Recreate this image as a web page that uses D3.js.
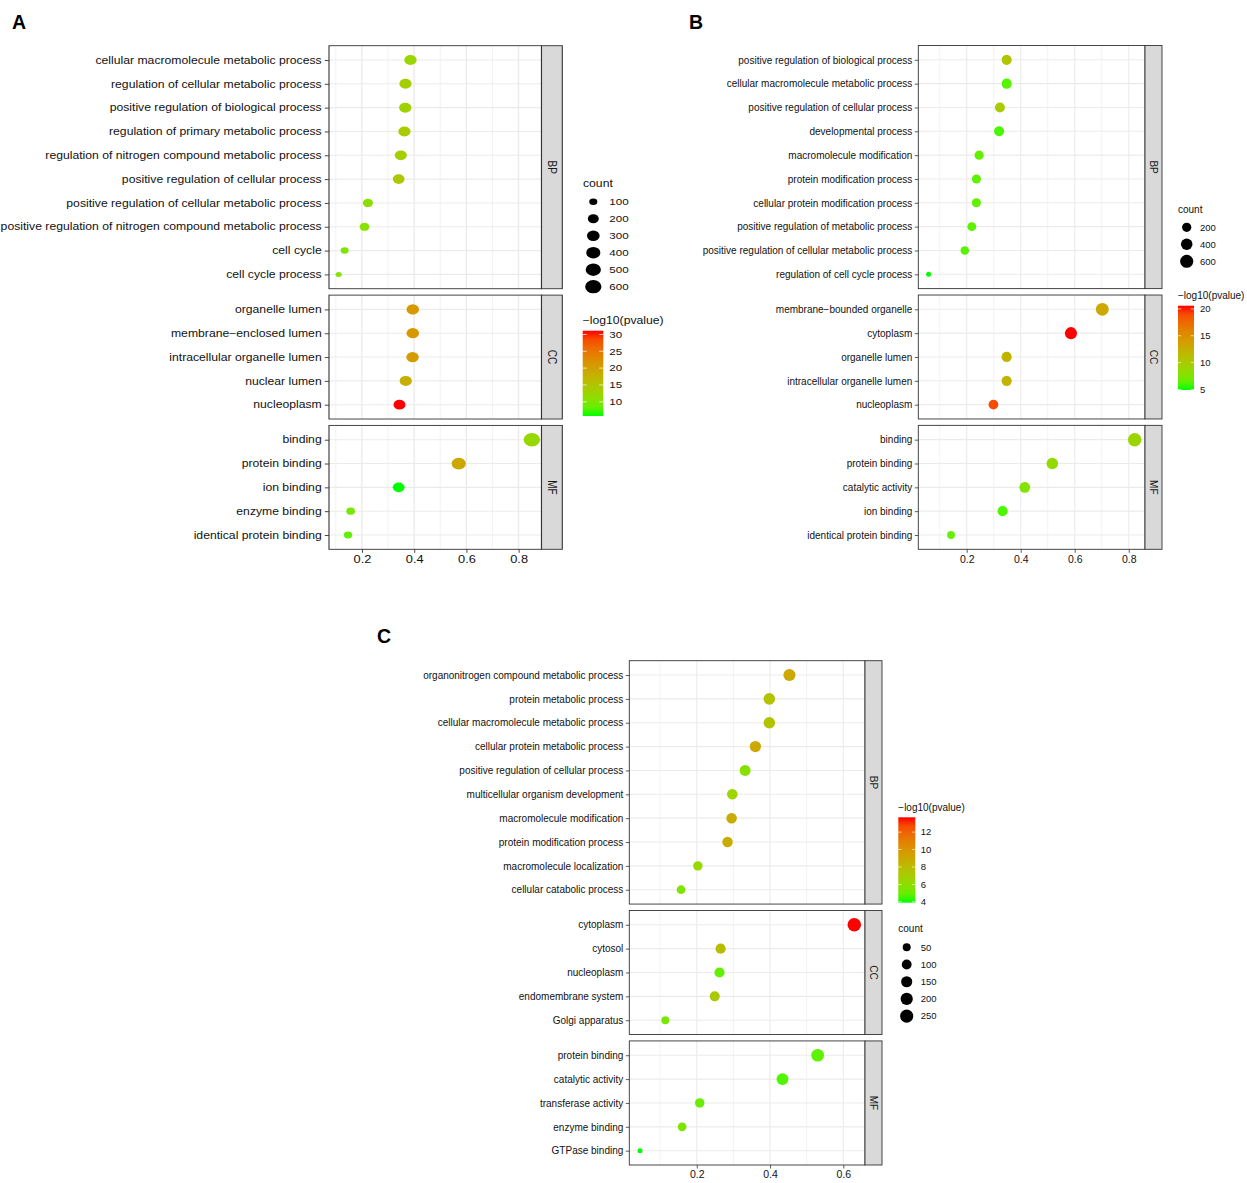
<!DOCTYPE html>
<html>
<head>
<meta charset="utf-8">
<script src="https://cdn.jsdelivr.net/npm/d3@7"></script>
<style>
  body { margin: 0; background: #fff; }
  text { font-family: "Liberation Sans", Arial, sans-serif; }
</style>
</head>
<body>
<svg id="fig" width="1247" height="1183"></svg>
<script>
"use strict";

// ---- data: panel A ----
const aTerms = ["cellular macromolecule metabolic process", "regulation of cellular metabolic process",
  "positive regulation of biological process", "regulation of primary metabolic process",
  "regulation of nitrogen compound metabolic process", "positive regulation of cellular process",
  "positive regulation of cellular metabolic process", "positive regulation of nitrogen compound metabolic process",
  "cell cycle", "cell cycle process",
  "organelle lumen", "membrane\u2212enclosed lumen", "intracellular organelle lumen", "nuclear lumen", "nucleoplasm",
  "binding", "protein binding", "ion binding", "enzyme binding", "identical protein binding"];
const aOnto = ["BP","BP","BP","BP","BP","BP","BP","BP","BP","BP","CC","CC","CC","CC","CC","MF","MF","MF","MF","MF"];
const aRatio = [0.386, 0.367, 0.366, 0.363, 0.349, 0.341, 0.223, 0.210, 0.134, 0.111,
  0.395, 0.395, 0.394, 0.368, 0.344,
  0.851, 0.571, 0.341, 0.157, 0.147];
const aCount = [282, 268, 267, 265, 255, 249, 163, 153, 98, 81,
  288, 288, 287, 269, 251,
  621, 417, 249, 115, 107];
const aLogP = [12.5, 13.5, 13, 14, 13.5, 14.5, 11, 10.5, 10, 10.5,
  21, 21, 20.5, 18, 31.1,
  12, 19, 5.8, 9.5, 8];
const aSizeBreaks = [100, 200, 300, 400, 500, 600];
const aColorTicks = [10, 15, 20, 25, 30];
const aXTicks = [0.2, 0.4, 0.6, 0.8];

// ---- data: panel B ----
const bTerms = ["positive regulation of biological process", "cellular macromolecule metabolic process",
  "positive regulation of cellular process", "developmental process", "macromolecule modification",
  "protein modification process", "cellular protein modification process",
  "positive regulation of metabolic process", "positive regulation of cellular metabolic process",
  "regulation of cell cycle process",
  "membrane\u2212bounded organelle", "cytoplasm", "organelle lumen", "intracellular organelle lumen", "nucleoplasm",
  "binding", "protein binding", "catalytic activity", "ion binding", "identical protein binding"];
const bOnto = ["BP","BP","BP","BP","BP","BP","BP","BP","BP","BP","CC","CC","CC","CC","CC","MF","MF","MF","MF","MF"];
const bRatio = [0.348, 0.348, 0.323, 0.320, 0.246, 0.236, 0.236, 0.219, 0.193, 0.059,
  0.702, 0.586, 0.348, 0.348, 0.299,
  0.822, 0.517, 0.415, 0.333, 0.142];
const bCount = [275, 275, 255, 253, 194, 186, 186, 173, 152, 47,
  555, 463, 275, 275, 236,
  649, 408, 328, 263, 112];
const bLogP = [10.5, 6, 10, 5.6, 6.4, 6.2, 6.4, 6.2, 6, 4.9,
  13, 20.6, 12, 12, 19,
  9, 8.5, 7.5, 5.8, 6.5];
const bSizeBreaks = [200, 400, 600];
const bColorTicks = [5, 10, 15, 20];
const bXTicks = [0.2, 0.4, 0.6, 0.8];

// ---- data: panel C ----
const cTerms = ["organonitrogen compound metabolic process", "protein metabolic process",
  "cellular macromolecule metabolic process", "cellular protein metabolic process",
  "positive regulation of cellular process", "multicellular organism development",
  "macromolecule modification", "protein modification process", "macromolecule localization",
  "cellular catabolic process",
  "cytoplasm", "cytosol", "nucleoplasm", "endomembrane system", "Golgi apparatus",
  "protein binding", "catalytic activity", "transferase activity", "enzyme binding", "GTPase binding"];
const cOnto = ["BP","BP","BP","BP","BP","BP","BP","BP","BP","BP","CC","CC","CC","CC","CC","MF","MF","MF","MF","MF"];
const cRatio = [0.453, 0.398, 0.398, 0.360, 0.332, 0.297, 0.295, 0.284, 0.203, 0.157,
  0.630, 0.265, 0.262, 0.249, 0.114,
  0.530, 0.434, 0.208, 0.160, 0.045];
const cCount = [195, 171, 171, 155, 143, 128, 127, 122, 87, 68,
  271, 114, 113, 107, 49,
  228, 187, 89, 69, 19];
const cLogP = [9, 7.5, 7.5, 9, 5.8, 6.5, 8.8, 8.8, 6.3, 5.5,
  13.7, 7.8, 4.8, 7.1, 5.3,
  4.7, 4.5, 5, 5.5, 3.9];
const cSizeBreaks = [50, 100, 150, 200, 250];
const cColorTicks = [4, 6, 8, 10, 12];
const cXTicks = [0.2, 0.4, 0.6];

const facets = ["BP", "CC", "MF"];

const svg = d3.select("#fig");
svg.append("rect").attr("width", 1247).attr("height", 1183).attr("fill", "#fff");

const greenRed = d3.interpolateLab("#00ff00", "#ff0000");
const DMIN = 5, DMAX = 13.5;

function drawPanel(p) {
  const sx = p.sx;
  const X = v => v / sx;   // page px -> local px (panel A is stretched)
  const g = svg.append("g").attr("transform", "scale(" + sx + ",1)");

  // panel letter (not stretched)
  svg.append("text").attr("x", p.letter[1]).attr("y", p.letter[2])
    .attr("font-size", 19.5).attr("font-weight", "bold").attr("fill", "#000")
    .text(p.letter[0]);

  const ext = d3.extent(p.ratio);
  const pad = (ext[1] - ext[0]) * 0.05;
  const x = d3.scaleLinear().domain([ext[0] - pad, ext[1] + pad]).range([X(p.left), X(p.right)]);
  const color = d3.scaleSequential(greenRed).domain(d3.extent(p.logp));
  const cnorm = d3.scaleLinear().domain(d3.extent(p.count)).range([0, 1]);
  const rad = c => (DMIN + (DMAX - DMIN) * Math.sqrt(Math.max(0, cnorm(c)))) / 2;

  const rows = p.terms.map((t, i) => ({ term: t, onto: p.onto[i], ratio: p.ratio[i], count: p.count[i], logp: p.logp[i] }));
  const nPer = facets.map(f => rows.filter(r => r.onto === f).length);
  const unit = (p.bottom - p.top - p.gap * (facets.length - 1)) / d3.sum(nPer, n => n + 0.2);

  let y0 = p.top;
  const minor = d3.range(0.1, ext[1] + pad, 0.2).filter(v => v > x.domain()[0]);

  facets.forEach((f, fi) => {
    const fr = rows.filter(r => r.onto === f);
    const h = (nPer[fi] + 0.2) * unit;
    const top = y0, bot = y0 + h;
    const y = d3.scalePoint().domain(fr.map(r => r.term)).range([top, bot]).padding(0.6);
    const pg = g.append("g");

    pg.append("rect").attr("x", X(p.left)).attr("y", top).attr("width", X(p.right) - X(p.left)).attr("height", h)
      .attr("fill", "#fff");
    pg.selectAll(".minor").data(minor).join("line")
      .attr("x1", d => x(d)).attr("x2", d => x(d)).attr("y1", top).attr("y2", bot)
      .attr("stroke", "#ebebeb").attr("stroke-width", 0.6);
    pg.selectAll(".major").data(p.xTicks).join("line")
      .attr("x1", d => x(d)).attr("x2", d => x(d)).attr("y1", top).attr("y2", bot)
      .attr("stroke", "#ebebeb").attr("stroke-width", 1.1);
    pg.selectAll(".hgrid").data(fr).join("line")
      .attr("x1", X(p.left)).attr("x2", X(p.right)).attr("y1", d => y(d.term)).attr("y2", d => y(d.term))
      .attr("stroke", "#ebebeb").attr("stroke-width", 1.1);

    pg.selectAll(".dot").data(fr).join("circle")
      .attr("cx", d => x(d.ratio)).attr("cy", d => y(d.term)).attr("r", d => rad(d.count))
      .attr("fill", d => color(d.logp));

    pg.append("rect").attr("x", X(p.left)).attr("y", top).attr("width", X(p.right) - X(p.left)).attr("height", h)
      .attr("fill", "none").attr("stroke", "#333").attr("stroke-width", 0.9);

    // strip
    pg.append("rect").attr("x", X(p.right)).attr("y", top).attr("width", X(p.stripR) - X(p.right)).attr("height", h)
      .attr("fill", "#d9d9d9").attr("stroke", "#333").attr("stroke-width", 0.9);
    pg.append("text")
      .attr("transform", "translate(" + ((X(p.right) + X(p.stripR)) / 2) + "," + ((top + bot) / 2) + ") rotate(90)")
      .attr("text-anchor", "middle").attr("dy", "0.35em").attr("font-size", 10).attr("fill", "#1a1a1a")
      .text(f);

    // y axis
    const ya = pg.append("g").attr("transform", "translate(" + X(p.left) + ",0)")
      .call(d3.axisLeft(y).tickSize(3.5).tickPadding(2.5));
    ya.select(".domain").remove();
    ya.selectAll("line").attr("stroke", "#333").attr("stroke-width", 0.8);
    ya.selectAll("text").attr("font-size", 10).attr("fill", "#111")
      .attr("font-family", "'Liberation Sans', Arial, sans-serif");

    if (fi === facets.length - 1) {
      const xa = pg.append("g").attr("transform", "translate(0," + bot + ")")
        .call(d3.axisBottom(x).tickValues(p.xTicks).tickFormat(d3.format(".1f")).tickSize(3.5).tickPadding(2.5));
      xa.select(".domain").remove();
      xa.selectAll("line").attr("stroke", "#333").attr("stroke-width", 0.8);
      xa.selectAll("text").attr("font-size", 10.5).attr("fill", "#111")
        .attr("font-family", "'Liberation Sans', Arial, sans-serif");
    }
    y0 = bot + p.gap;
  });

  // size legend
  const sl = p.sizeLeg;
  g.append("text").attr("x", X(sl.x)).attr("y", sl.titleY).attr("font-size", 10).attr("fill", "#111").text("count");
  const items = g.selectAll(".sitem").data(p.sizeBreaks).join("g")
    .attr("transform", (d, i) => "translate(0," + (sl.y0 + i * sl.step) + ")");
  items.append("circle").attr("cx", X(sl.dotX)).attr("cy", 0).attr("r", d => rad(d)).attr("fill", "#000");
  items.append("text").attr("x", X(sl.labelX)).attr("y", 0).attr("dy", "0.35em")
    .attr("font-size", 9.5).attr("fill", "#111").text(d => d);

  // colour legend
  const cl = p.colorLeg;
  g.append("text").attr("x", X(cl.x0)).attr("y", cl.titleY).attr("font-size", 10).attr("fill", "#111")
    .text("\u2212log10(pvalue)");
  const gid = "grad" + p.letter[0];
  const grad = svg.append("defs").append("linearGradient").attr("id", gid)
    .attr("x1", 0).attr("y1", 1).attr("x2", 0).attr("y2", 0);
  d3.range(0, 1.0001, 0.1).forEach(t => {
    grad.append("stop").attr("offset", t).attr("stop-color", greenRed(t));
  });
  g.append("rect").attr("x", X(cl.x0)).attr("y", cl.y0).attr("width", X(cl.x1) - X(cl.x0)).attr("height", cl.y1 - cl.y0)
    .attr("fill", "url(#" + gid + ")");
  const cy = d3.scaleLinear().domain(color.domain()).range([cl.y1, cl.y0]);
  const bw = X(cl.x1) - X(cl.x0);
  g.selectAll(".ctl").data(p.colorTicks).join("line")
    .attr("x1", X(cl.x0)).attr("x2", X(cl.x0) + bw / 5).attr("y1", d => cy(d)).attr("y2", d => cy(d))
    .attr("stroke", "#fff").attr("stroke-width", 0.8).attr("opacity", 0.8);
  g.selectAll(".ctr").data(p.colorTicks).join("line")
    .attr("x1", X(cl.x1) - bw / 5).attr("x2", X(cl.x1)).attr("y1", d => cy(d)).attr("y2", d => cy(d))
    .attr("stroke", "#fff").attr("stroke-width", 0.8).attr("opacity", 0.8);
  g.selectAll(".ctt").data(p.colorTicks).join("text")
    .attr("x", X(cl.labelX)).attr("y", d => cy(d)).attr("dy", "0.35em")
    .attr("font-size", 9.5).attr("fill", "#111").text(d => d);
}

drawPanel({
  letter: ["A", 12, 29], sx: 1.22,
  terms: aTerms, onto: aOnto, ratio: aRatio, count: aCount, logp: aLogP,
  xTicks: aXTicks, sizeBreaks: aSizeBreaks, colorTicks: aColorTicks,
  left: 329, right: 541.5, stripR: 562.3, top: 45.7, bottom: 549.3, gap: 6.4,
  sizeLeg: { x: 583, titleY: 187.5, y0: 201.7, step: 17, dotX: 593.3, labelX: 609.3 },
  colorLeg: { x0: 582.7, x1: 603.3, y0: 330.7, y1: 416, titleY: 324.5, labelX: 609.3 }
});

drawPanel({
  letter: ["B", 689, 29], sx: 1,
  terms: bTerms, onto: bOnto, ratio: bRatio, count: bCount, logp: bLogP,
  xTicks: bXTicks, sizeBreaks: bSizeBreaks, colorTicks: bColorTicks,
  left: 918.3, right: 1145, stripR: 1162, top: 45.5, bottom: 549.3, gap: 6.4,
  sizeLeg: { x: 1178, titleY: 213, y0: 227.3, step: 17, dotX: 1186.7, labelX: 1200 },
  colorLeg: { x0: 1178, x1: 1194, y0: 305.7, y1: 390, titleY: 298.5, labelX: 1200 }
});

drawPanel({
  letter: ["C", 377, 642.7], sx: 1,
  terms: cTerms, onto: cOnto, ratio: cRatio, count: cCount, logp: cLogP,
  xTicks: cXTicks, sizeBreaks: cSizeBreaks, colorTicks: cColorTicks,
  left: 629.3, right: 865, stripR: 882, top: 660.7, bottom: 1165, gap: 6.4,
  sizeLeg: { x: 898.3, titleY: 932, y0: 947.3, step: 17.2, dotX: 906.7, labelX: 920.7 },
  colorLeg: { x0: 898.3, x1: 915.3, y0: 817.3, y1: 902.7, titleY: 811, labelX: 920.7 }
});
</script>
</body>
</html>
